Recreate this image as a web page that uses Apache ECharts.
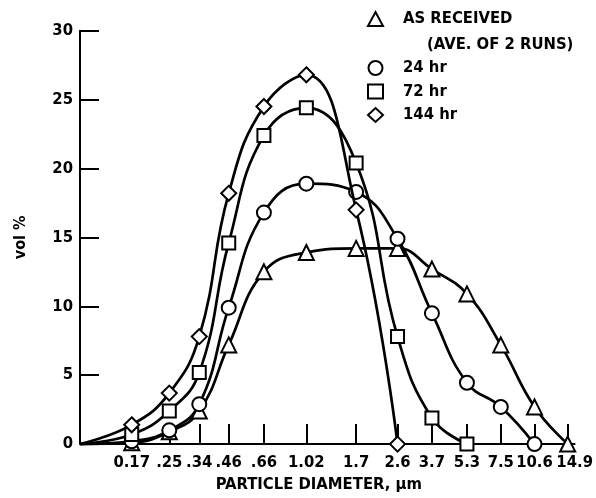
<!DOCTYPE html>
<html>
<head>
<meta charset="utf-8">
<script src="https://cdn.jsdelivr.net/npm/echarts@6/dist/echarts.min.js"></script>
<style>
html,body{margin:0;padding:0;background:#fff;}
#chart{width:596px;height:498px;}
</style>
</head>
<body>
<div id="chart"></div>
<script>
// Particle diameters (µm) and tick labels
var diameters = [0.17, 0.25, 0.34, 0.46, 0.66, 1.02, 1.7, 2.6, 3.7, 5.3, 7.5, 10.6, 14.9];
var tickLabels = ['0.17', '.25', '.34', '.46', '.66', '1.02', '1.7', '2.6', '3.7', '5.3', '7.5', '10.6', '14.9'];
var yTicks = [0, 5, 10, 15, 20, 25, 30];

// vol % values (null = no point)
var asReceived = [0.1, 0.9, 2.4, 7.2, 12.5, 13.9, 14.2, 14.2, 12.7, 10.9, 7.2, 2.7, 0];
var hr24 = [0.2, 1.0, 2.9, 9.9, 16.8, 18.9, 18.3, 14.9, 9.5, 4.45, 2.7, 0, null];
var hr72 = [0.7, 2.4, 5.2, 14.6, 22.4, 24.4, 20.4, 7.8, 1.9, 0, null, null, null];
var hr144 = [1.4, 3.7, 7.8, 18.2, 24.5, 26.8, 17.0, 0, null, null, null, null, null];

var seriesNames = ['AS RECEIVED', '24 hr', '72 hr', '144 hr'];
var seriesSymbols = ['triangle', 'circle', 'rect', 'diamond'];
var originX = 0.1;

var FONT = '"DejaVu Sans Condensed", "DejaVu Sans", sans-serif';

function buildData(vals) {
  var out = [{ value: [originX, 0], symbol: 'none' }];
  for (var i = 0; i < diameters.length; i++) {
    if (vals[i] !== null) out.push([diameters[i], vals[i]]);
  }
  return out;
}

var allVals = [asReceived, hr24, hr72, hr144];
var symSizes = [15, 14, 13, 15];

var series = allVals.map(function (vals, i) {
  return {
    name: seriesNames[i],
    type: 'line',
    data: buildData(vals),
    smooth: 0.45,
    symbol: seriesSymbols[i],
    symbolSize: symSizes[i],
    showAllSymbol: true,
    lineStyle: { color: '#000', width: 2.7 },
    itemStyle: { color: '#fff', borderColor: '#000', borderWidth: 2 },
    emphasis: { disabled: true },
    animation: false,
    z: 2 + i
  };
});

function labelIndex(v) {
  var best = 0, bd = Infinity;
  for (var i = 0; i < diameters.length; i++) {
    var d = Math.abs(Math.log(v) - Math.log(diameters[i]));
    if (d < bd) { bd = d; best = i; }
  }
  return best;
}

var chart = echarts.init(document.getElementById('chart'), null, { renderer: 'canvas' });
chart.setOption({
  backgroundColor: '#fff',
  animation: false,
  grid: { left: 80, right: 21, top: 30.7, bottom: 53.3, containLabel: false },
  xAxis: {
    type: 'log',
    logBase: 10,
    min: 0.1,
    max: 16,
    name: 'PARTICLE DIAMETER, \u03bcm',
    nameLocation: 'middle',
    nameGap: 31,
    nameTextStyle: { fontFamily: FONT, fontSize: 16.5, fontWeight: 'bold', color: '#000', padding: [0, 17, 0, 0] },
    axisLine: { lineStyle: { color: '#000', width: 2 } },
    axisTick: { show: true, inside: true, length: 20, customValues: diameters, lineStyle: { color: '#000', width: 2 } },
    axisLabel: {
      customValues: diameters,
      hideOverlap: false,
      showMinLabel: true,
      showMaxLabel: true,
      formatter: function (v) {
        var i = labelIndex(v);
        if (i === diameters.length - 1) return '{r|' + tickLabels[i] + '}';
        return tickLabels[i];
      },
      rich: {
        r: { fontFamily: FONT, fontSize: 16.5, fontWeight: 'bold', color: '#000', padding: [0, 0, 0, 14] }
      },
      margin: 10,
      fontFamily: FONT, fontSize: 16.5, fontWeight: 'bold', color: '#000'
    },
    splitLine: { show: false },
    minorTick: { show: false }
  },
  yAxis: {
    type: 'value',
    min: 0,
    max: 30,
    interval: 5,
    name: 'vol %',
    nameLocation: 'middle',
    nameGap: 51,
    nameTextStyle: { fontFamily: FONT, fontSize: 16, fontWeight: 'bold', color: '#000' },
    axisLine: { show: true, lineStyle: { color: '#000', width: 2 } },
    axisTick: { show: true, inside: true, length: 19, lineStyle: { color: '#000', width: 2 } },
    axisLabel: { margin: 7, fontFamily: FONT, fontSize: 16.5, fontWeight: 'bold', color: '#000' },
    splitLine: { show: false }
  },
  legend: [
    {
      data: [{ name: 'AS RECEIVED', icon: 'triangle' }],
      left: 367, top: 9, padding: 0,
      itemWidth: 15, itemHeight: 14,
      itemStyle: { color: '#fff', borderColor: '#000', borderWidth: 2 },
      textStyle: { fontFamily: FONT, fontSize: 16.5, fontWeight: 'bold', color: '#000', lineHeight: 20, padding: [0, 0, 0, 15] },
      selectedMode: false
    },
    {
      data: [{ name: '24 hr', icon: 'circle' }, { name: '72 hr', icon: 'rect' }, { name: '144 hr', icon: 'diamond' }],
      orient: 'vertical',
      left: 367, top: 58, padding: 0,
      itemGap: 3.5,
      itemWidth: 15, itemHeight: 14,
      itemStyle: { color: '#fff', borderColor: '#000', borderWidth: 2 },
      textStyle: { fontFamily: FONT, fontSize: 16.5, fontWeight: 'bold', color: '#000', lineHeight: 20, padding: [0, 0, 0, 15] },
      selectedMode: false
    }
  ],
  graphic: [
    {
      type: 'text',
      left: 427, top: 36,
      style: { text: '(AVE. OF 2 RUNS)', font: 'bold 16.5px ' + FONT, fill: '#000' }
    }
  ],
  series: series
});
</script>
</body>
</html>
